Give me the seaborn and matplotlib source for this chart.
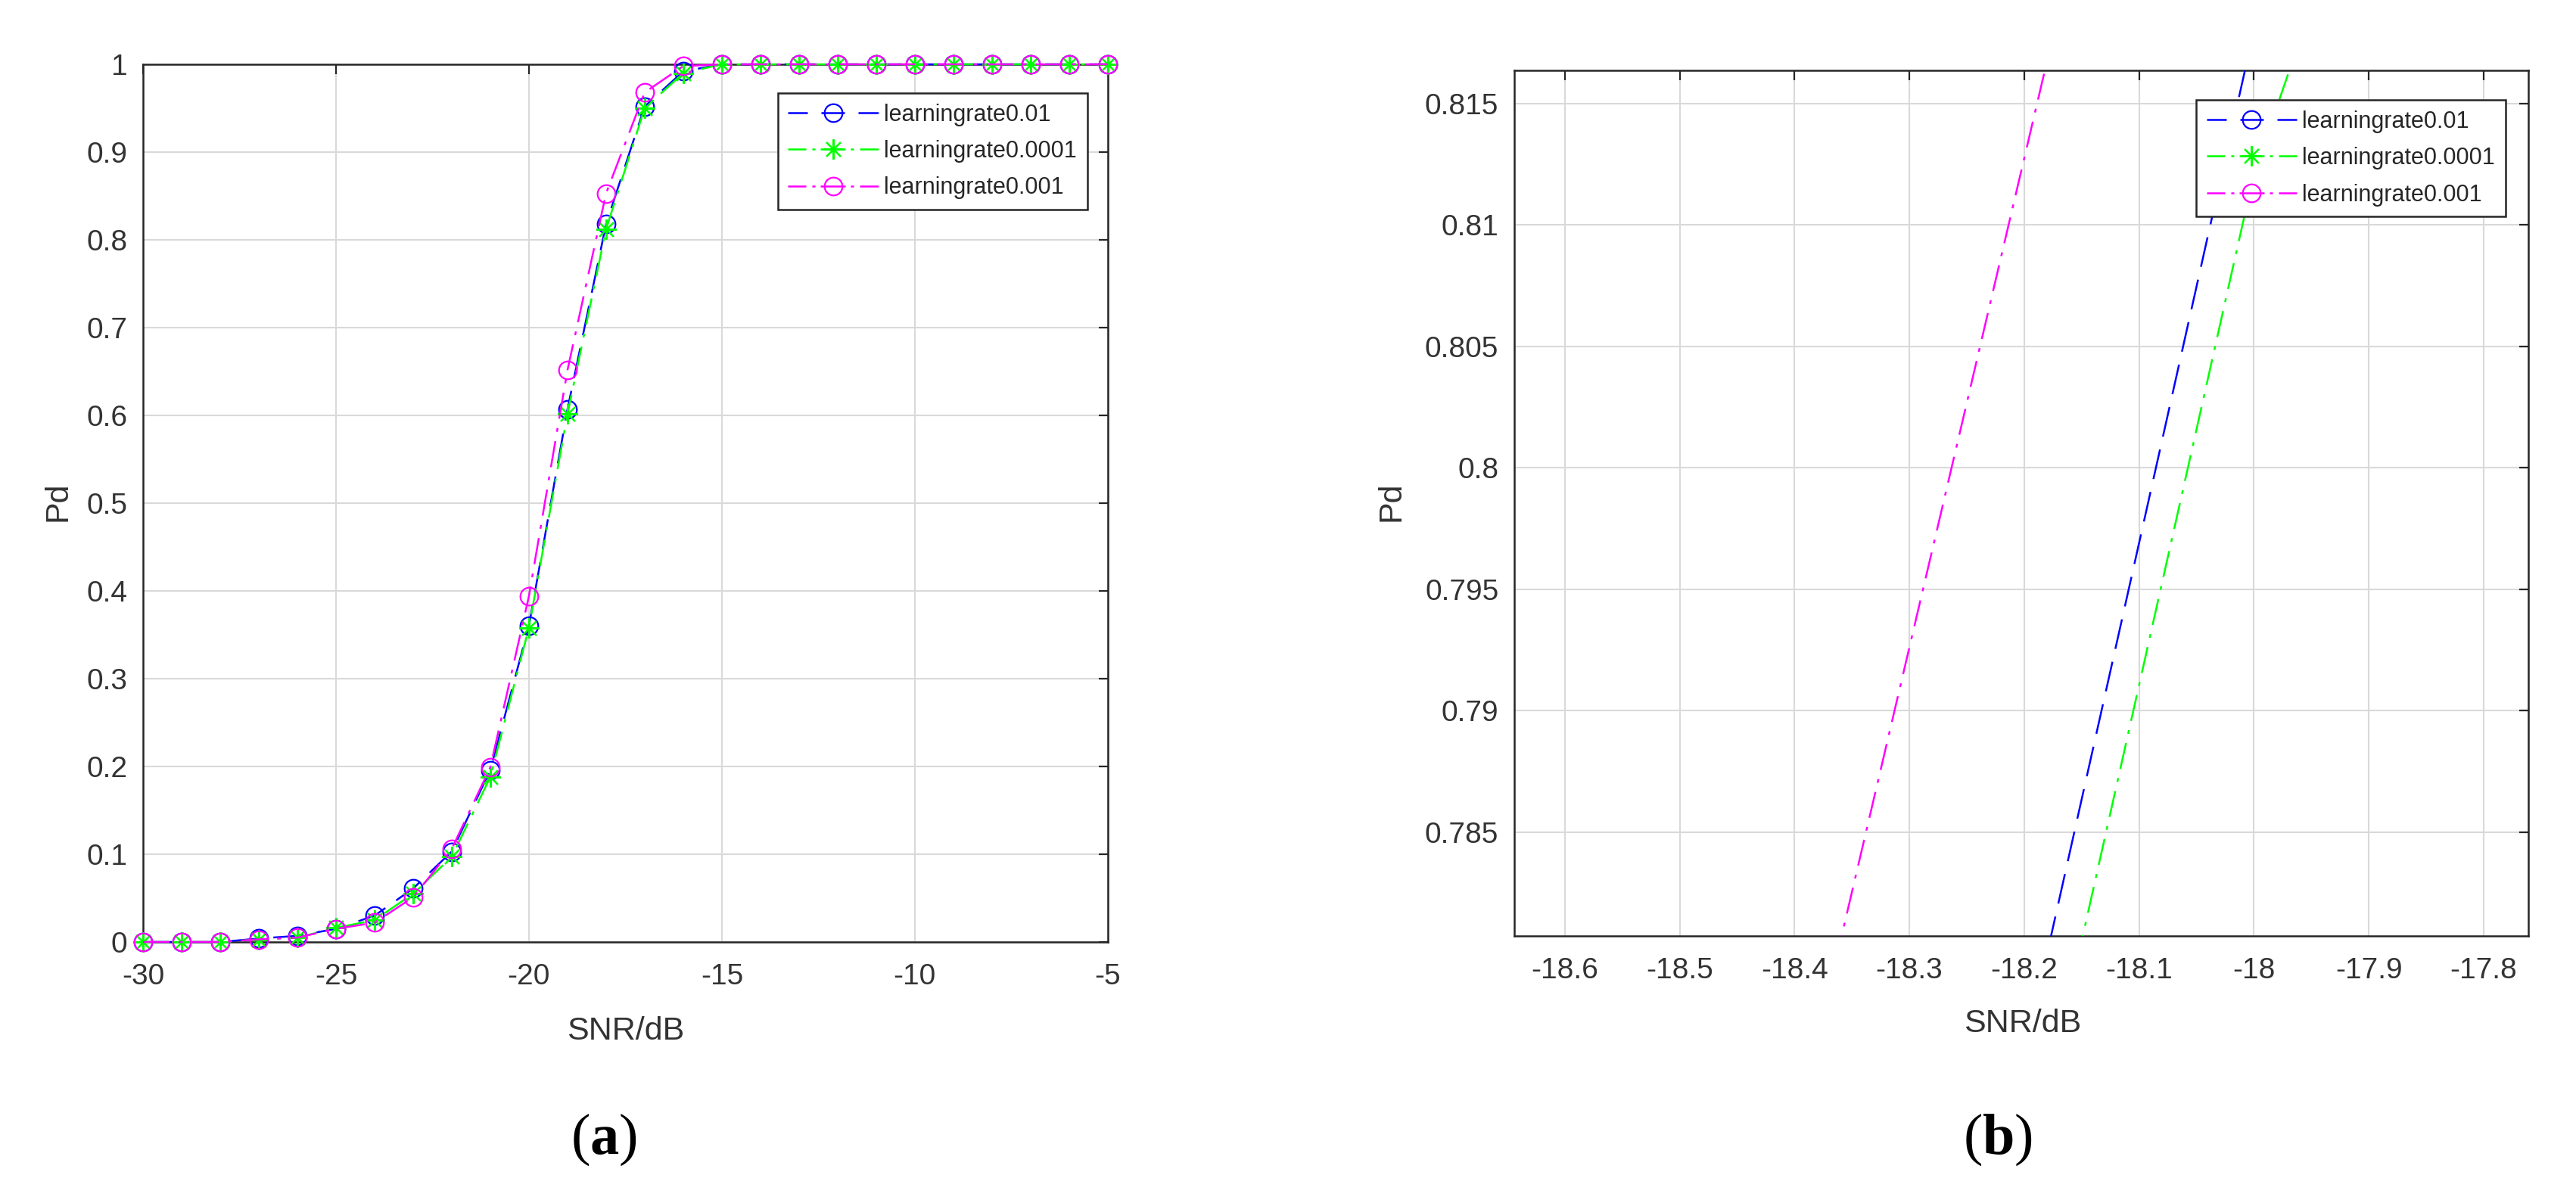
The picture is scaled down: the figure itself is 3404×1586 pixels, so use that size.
import numpy as np
import pandas as pd
import seaborn as sns
import matplotlib
matplotlib.use("Agg")
import matplotlib.pyplot as plt
from matplotlib.lines import Line2D
from matplotlib.ticker import FormatStrFormatter

# SNR (dB) grid and detection probability for each learning rate
snr = [-30, -29, -28, -27, -26, -25, -24, -23, -22, -21, -20, -19, -18,
       -17, -16, -15, -14, -13, -12, -11, -10, -9, -8, -7, -6, -5]
pd_lr_001 = [0.0, 0.0, 0.0, 0.004, 0.007, 0.015, 0.030, 0.061, 0.103, 0.196,
             0.360, 0.607, 0.818, 0.952, 0.992, 1.0, 1.0, 1.0, 1.0, 1.0,
             1.0, 1.0, 1.0, 1.0, 1.0, 1.0]
pd_lr_00001 = [0.0, 0.0, 0.0, 0.003, 0.005, 0.016, 0.025, 0.055, 0.097, 0.188,
               0.358, 0.6016, 0.8121, 0.950, 0.990, 1.0, 1.0, 1.0, 1.0, 1.0,
               1.0, 1.0, 1.0, 1.0, 1.0, 1.0]
pd_lr_0001 = [0.0, 0.0, 0.0, 0.003, 0.005, 0.015, 0.022, 0.051, 0.106, 0.199,
              0.394, 0.6517, 0.853, 0.968, 0.998, 1.0, 1.0, 1.0, 1.0, 1.0,
              1.0, 1.0, 1.0, 1.0, 1.0, 1.0]
labels = ['learningrate0.01', 'learningrate0.0001', 'learningrate0.001']

df = pd.DataFrame({
    'SNR': snr * 3,
    'Pd': pd_lr_001 + pd_lr_00001 + pd_lr_0001,
    'lr': [labels[0]] * len(snr) + [labels[1]] * len(snr) + [labels[2]] * len(snr),
})

sns.set_theme(style="white")
plt.rcParams['font.family'] = ['Liberation Sans', 'DejaVu Sans']
plt.rcParams['mathtext.fontset'] = 'custom'
plt.rcParams['mathtext.rm'] = 'Liberation Serif'
plt.rcParams['mathtext.bf'] = 'Liberation Serif:bold'

LW = 1.8
dashed = (0, (16, 7))
dashdot = (0, (14, 5, 2, 5))
# legend handles drawn like MATLAB's: segment, gap, line through marker, gap, segment
leg_dashed = (0, (10.4, 7.2, 12.4, 7.2, 10.4, 0.1))
leg_dashdot = (0, (9.6, 3.2, 1.6, 2.8, 13.2, 2.8, 1.6, 3.2, 9.6, 0.1))

styles = {
    labels[0]: dict(color=(0, 0, 1), ls=dashed, leg_ls=leg_dashed, marker='o', ms=17),
    labels[1]: dict(color=(0, 1, 0), ls=dashdot, leg_ls=leg_dashdot, marker=(8, 2, 0), ms=19),
    labels[2]: dict(color=(1, 0, 1), ls=dashdot, leg_ls=leg_dashdot, marker='o', ms=17),
}

TXT = '#333333'
EDGE = '#262626'


def draw(ax, clip):
    for name in labels:
        st = styles[name]
        sns.lineplot(data=df[df.lr == name], x='SNR', y='Pd', ax=ax,
                     color=st['color'], linestyle=st['ls'], marker=st['marker'],
                     markersize=st['ms'], markerfacecolor='none',
                     markeredgecolor=st['color'], markeredgewidth=1.6,
                     linewidth=LW, clip_on=clip, zorder=3, errorbar=None)
    ax.grid(True, color='#d9d9d9', linewidth=1.5)
    ax.set_axisbelow(True)
    for s in ax.spines.values():
        s.set_visible(True)
        s.set_color(EDGE)
        s.set_linewidth(1.8)
    ax.tick_params(direction='in', length=9, width=1.6, top=True, right=True,
                   labelsize=28, labelcolor=TXT, color=EDGE)
    ax.tick_params(axis='x', pad=20)
    ax.tick_params(axis='y', pad=15)
    ax.xaxis.set_major_formatter(FormatStrFormatter('%g'))
    ax.yaxis.set_major_formatter(FormatStrFormatter('%g'))


def legend(ax, anchor):
    handles = []
    for name in labels:
        st = styles[name]
        handles.append(Line2D([], [], color=st['color'], linestyle=st['leg_ls'],
                              linewidth=LW, marker=st['marker'], markersize=st['ms'],
                              markerfacecolor='none', markeredgecolor=st['color'],
                              markeredgewidth=1.6))
    leg = ax.legend(handles, labels, loc='upper right', bbox_to_anchor=anchor,
                    borderaxespad=0, fontsize=22, frameon=True, fancybox=False,
                    edgecolor=EDGE, framealpha=1, handlelength=3.9,
                    handletextpad=0.25, borderpad=0.45, labelspacing=0.6,
                    labelcolor=EDGE)
    leg.get_frame().set_linewidth(1.8)
    leg.set_zorder(6)


fig = plt.figure(figsize=(34.05, 15.86), dpi=100)

# (a) full curve
ax1 = fig.add_axes([0.0555, 0.2150, 0.3744, 0.7314])
draw(ax1, clip=False)
ax1.set_xlim(-30, -5)
ax1.set_ylim(0, 1)
ax1.set_xticks(list(range(-30, -4, 5)))
ax1.set_yticks(np.round(np.arange(0, 1.01, 0.1), 1))
legend(ax1, (0.9788, 0.9672))
ax1.set_xlabel('SNR/dB', fontsize=31, color=TXT, va='center')
ax1.set_ylabel('Pd', fontsize=31, color=TXT, va='center')
ax1.xaxis.set_label_coords(0.5, -0.1017)
ax1.yaxis.set_label_coords(-0.0886, 0.5017)

# (b) zoom around -18 dB
ax2 = fig.add_axes([0.5877, 0.2200, 0.3935, 0.7213])
draw(ax2, clip=True)
ax2.set_xlim(-18.644, -17.761)
ax2.set_ylim(0.78073, 0.81636)
ax2.set_xticks(np.round(np.arange(-18.6, -17.75, 0.1), 1))
ax2.set_yticks(np.round(np.arange(0.785, 0.8151, 0.005), 3))
legend(ax2, (0.9776, 0.9659))
ax2.set_xlabel('SNR/dB', fontsize=31, color=TXT, va='center')
ax2.set_ylabel('Pd', fontsize=31, color=TXT, va='center')
ax2.xaxis.set_label_coords(0.5015, -0.1014)
ax2.yaxis.set_label_coords(-0.1216, 0.5017)

fig.text(0.2344, 0.0505, r'$\mathrm{(}\mathbf{a}\mathrm{)}$', fontsize=55,
         ha='center', va='center', color='black')
fig.text(0.7753, 0.0505, r'$\mathrm{(}\mathbf{b}\mathrm{)}$', fontsize=55,
         ha='center', va='center', color='black')

fig.savefig('out.png', dpi=100)
